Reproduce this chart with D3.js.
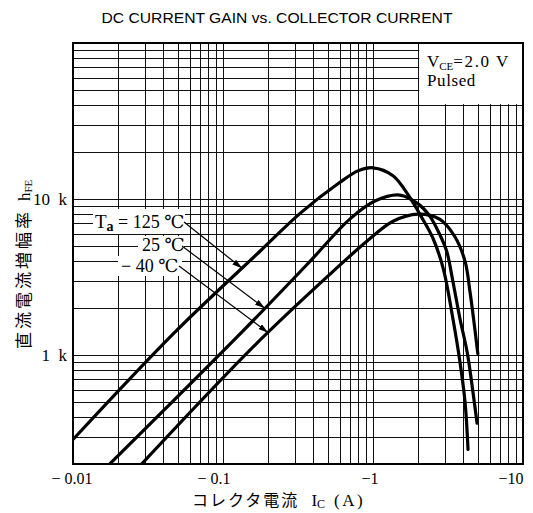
<!DOCTYPE html>
<html><head><meta charset="utf-8">
<script src="https://cdn.jsdelivr.net/npm/d3@7"></script>
<style>body{margin:0;background:#fff} text{white-space:pre}</style>
</head><body><svg id="c" width="533" height="513" xmlns="http://www.w3.org/2000/svg"></svg>
<script>
// ---------- data ----------
const xTicks = [0.01, 0.1, 1, 10];
const xTickLabels = ["\u2212 0.01", "\u2212 0.1", "\u22121", "\u221210"];
const xTickDx = [-1, -9, -3, -12];
const yTicks = [1000, 10000];
const yTickLabels = ["1  k", "10  k"];
const seriesNames = ["125", "25", "\u221240"];

const ic125 = [0.010, 0.048, 0.1765, 0.328, 0.596, 0.80, 1.00, 1.36, 1.77, 2.05, 2.51, 2.94, 3.41, 3.80, 4.11, 4.30];
const hfe125 = [287, 1406, 4624, 8120, 12700, 15200, 15850, 14100, 10150, 8000, 5600, 3580, 1706, 902, 497, 248];

const ic25 = [0.0171, 0.134, 0.38, 0.70, 1.03, 1.51, 2.0, 2.39, 2.78, 3.1, 3.41, 3.80, 4.24, 4.64, 4.94];
const hfe25 = [195, 1406, 3981, 7430, 9700, 10600, 9300, 7770, 5950, 4620, 2958, 1706, 1048, 577, 365];

const icm40 = [0.028, 0.164, 0.54, 0.91, 1.36, 2.0, 2.78, 3.5, 4.11, 4.43, 4.71, 5.0];
const hfem40 = [195, 1161, 3425, 5360, 7200, 8000, 7430, 5770, 3980, 2549, 1630, 1017];

// arrow tip currents on each curve
const arrowIc = [0.134, 0.19, 0.20];

// ---------- layout ----------
const svg = d3.select("#c");
const L = 73, R = 523, T = 43, B = 464;
const x = d3.scaleLog().domain([0.01, 10]).range([L, R]);
const y = d3.scaleLog().domain([200, 100000]).range([B, T]);

const serif = "'Liberation Serif','DejaVu Serif',serif";
const cjk = "'Noto Sans CJK JP','Noto Sans CJK SC',sans-serif";

// title
svg.append("text").attr("x", 277).attr("y", 23).attr("text-anchor", "middle")
  .attr("font-family", "'Liberation Sans',Arial,sans-serif").attr("font-size", 15)
  .attr("textLength", 351).attr("lengthAdjust", "spacingAndGlyphs")
  .text("DC CURRENT GAIN vs. COLLECTOR CURRENT");

// grid
const grid = svg.append("g").attr("stroke", "#111").attr("stroke-width", 1).attr("shape-rendering", "crispEdges");
const xGrid = [];
for (let d = 0.01; d < 10; d *= 10) for (let k = 1; k <= 9; k++) xGrid.push(+(d * k).toPrecision(3));
xGrid.push(10);
const yGrid = [];
for (let d = 100; d < 100000; d *= 10) for (let k = 1; k <= 9; k++) { const v = d * k; if (v >= 200) yGrid.push(v); }
yGrid.push(100000);
grid.selectAll("line.v").data(xGrid).join("line").attr("class", "v")
  .attr("x1", d => Math.round(x(d)) + 0.5).attr("x2", d => Math.round(x(d)) + 0.5).attr("y1", T).attr("y2", B);
grid.selectAll("line.h").data(yGrid).join("line").attr("class", "h")
  .attr("y1", d => Math.round(y(d)) + 0.5).attr("y2", d => Math.round(y(d)) + 0.5).attr("x1", L).attr("x2", R);

// condition box (I=2..10, hFE=40k..100k), white
svg.append("rect").attr("x", x(2) + 1).attr("y", T).attr("width", R - x(2) - 1).attr("height", y(40000) - T - 1)
  .attr("fill", "#fff");
const vt = svg.append("text").attr("x", 427).attr("y", 67).attr("font-family", serif).attr("font-size", 17);
vt.append("tspan").text("V");
vt.append("tspan").attr("font-size", 11).attr("dy", 3).text("CE");
vt.append("tspan").attr("dy", -3).attr("letter-spacing", 1.6).text("=2.0 V");
svg.append("text").attr("x", 427).attr("y", 86).attr("font-family", serif).attr("font-size", 17).attr("letter-spacing", 0.6).text("Pulsed");

// curves
svg.append("clipPath").attr("id", "clip").append("rect").attr("x", L).attr("y", T).attr("width", R - L).attr("height", B - T);
const line = d3.line().x(d => x(d[0])).y(d => y(d[1])).curve(d3.curveCatmullRom.alpha(0.5));
const series = [d3.zip(ic125, hfe125), d3.zip(ic25, hfe25), d3.zip(icm40, hfem40)];
svg.append("g").attr("clip-path", "url(#clip)").selectAll("path").data(series).join("path")
  .attr("d", line).attr("fill", "none").attr("stroke", "#000").attr("stroke-width", 3.2)
  .attr("stroke-linecap", "round").attr("stroke-linejoin", "round");

// frame
svg.append("rect").attr("x", L).attr("y", T).attr("width", R - L).attr("height", B - T)
  .attr("fill", "none").attr("stroke", "#000").attr("stroke-width", 2);

// annotation labels
const labelBoxes = [[93, 209, 92, 25], [138, 236, 46, 20], [118, 256, 64, 20]];
svg.selectAll("rect.lb").data(labelBoxes).join("rect").attr("class", "lb")
  .attr("x", d => d[0]).attr("y", d => d[1]).attr("width", d => d[2]).attr("height", d => d[3]).attr("fill", "#fff");

const t1 = svg.append("text").attr("x", 95).attr("y", 228).attr("font-family", serif).attr("font-size", 19);
t1.append("tspan").text("T");
t1.append("tspan").attr("font-size", 14).attr("dy", 3).attr("font-weight", "bold").text("a");
t1.append("tspan").attr("dy", -3).attr("font-size", 18).text(" = " + seriesNames[0] + " \u2103");
svg.append("text").attr("x", 142).attr("y", 251).attr("font-family", serif).attr("font-size", 18).text(seriesNames[1] + " \u2103");
svg.append("text").attr("x", 121).attr("y", 272).attr("font-family", serif).attr("font-size", 18).text(seriesNames[2].replace("\u2212", "\u2212 ") + " \u2103");

// leader arrows
const defs = svg.append("defs");
defs.append("marker").attr("id", "ah").attr("viewBox", "0 0 10 6").attr("refX", 10).attr("refY", 3)
  .attr("markerWidth", 10).attr("markerHeight", 6).attr("markerUnits", "userSpaceOnUse").attr("orient", "auto")
  .append("path").attr("d", "M0,0 L10,3 L0,6 Z").attr("fill", "#000");
function interpH(ics, hs, ic) {
  const lx = ics.map(Math.log10), ly = hs.map(Math.log10), v = Math.log10(ic);
  for (let i = 0; i < lx.length - 1; i++) if (v >= lx[i] && v <= lx[i + 1]) {
    const t = (v - lx[i]) / (lx[i + 1] - lx[i]); return Math.pow(10, ly[i] + t * (ly[i + 1] - ly[i]));
  }
  return hs[0];
}
const starts = [[184, 222], [182, 246], [179, 266]];
const tips = [
  [x(arrowIc[0]), y(interpH(ic125, hfe125, arrowIc[0]))],
  [x(arrowIc[1]), y(interpH(ic25, hfe25, arrowIc[1]))],
  [x(arrowIc[2]), y(interpH(icm40, hfem40, arrowIc[2]))]
];
svg.selectAll("line.ar").data(d3.range(3)).join("line").attr("class", "ar")
  .attr("x1", i => starts[i][0]).attr("y1", i => starts[i][1])
  .attr("x2", i => tips[i][0]).attr("y2", i => tips[i][1])
  .attr("stroke", "#000").attr("stroke-width", 1.2).attr("marker-end", "url(#ah)");

// y tick labels
svg.selectAll("text.yt").data(yTicks).join("text").attr("class", "yt")
  .attr("x", 67).attr("y", d => y(d) + 6).attr("text-anchor", "end")
  .attr("font-family", serif).attr("font-size", 17).text((d, i) => yTickLabels[i]);
// x tick labels
svg.selectAll("text.xt").data(xTicks).join("text").attr("class", "xt")
  .attr("x", (d, i) => x(d) + xTickDx[i]).attr("y", 484).attr("text-anchor", "middle")
  .attr("font-family", serif).attr("font-size", 16).text((d, i) => xTickLabels[i]);

// x axis title
const xt = svg.append("text").attr("x", 192).attr("y", 506);
xt.append("tspan").attr("font-family", cjk).attr("font-size", 16).attr("letter-spacing", 2).text("コレクタ電流");
xt.append("tspan").attr("font-family", serif).attr("font-size", 17).attr("dx", 12).text("I");
xt.append("tspan").attr("font-family", serif).attr("font-size", 12).attr("dy", 2).text("C");
xt.append("tspan").attr("font-family", serif).attr("font-size", 17).attr("dy", -2).attr("dx", 9).attr("letter-spacing", 2.5).text("(A)");

// y axis title
const yt = svg.append("text").attr("transform", "translate(30,349) rotate(-90)");
yt.append("tspan").attr("font-family", cjk).attr("font-size", 17).attr("letter-spacing", 3).text("直流電流増幅率");
yt.append("tspan").attr("font-family", serif).attr("font-size", 17).attr("dx", 8).text("h");
yt.append("tspan").attr("font-family", serif).attr("font-size", 11).attr("dy", 2).text("FE");
</script></body></html>
